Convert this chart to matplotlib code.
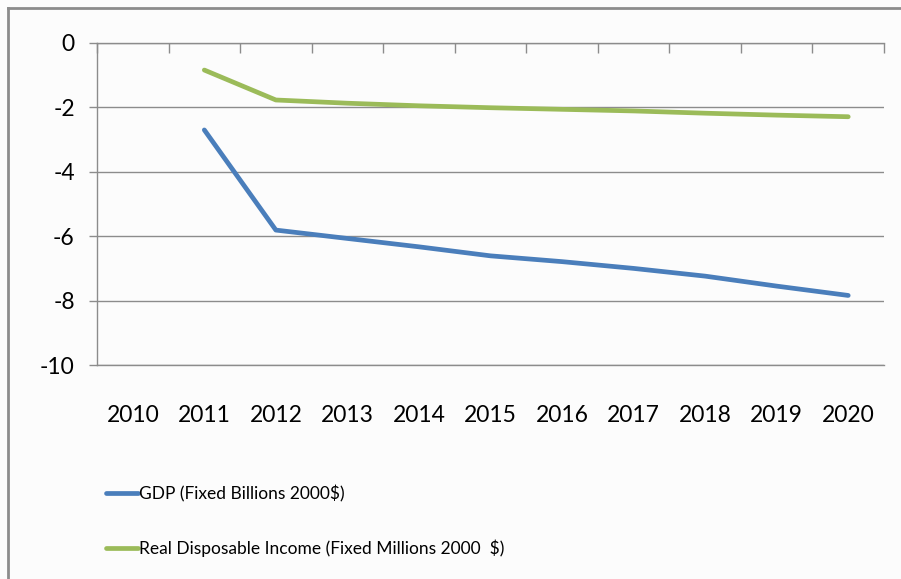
import matplotlib.pyplot as plt
from matplotlib.lines import Line2D
import numpy as np

years = ['2010', '2011', '2012', '2013', '2014', '2015', '2016', '2017', '2018', '2019', '2020']
gdp = [np.nan, -2.70, -5.81, -6.07, -6.33, -6.61, -6.79, -7.00, -7.24, -7.55, -7.84]
income = [np.nan, -0.84, -1.77, -1.87, -1.95, -2.01, -2.06, -2.11, -2.18, -2.24, -2.29]
labels = ['GDP (Fixed Billions 2000$)', 'Real Disposable Income (Fixed Millions 2000  $)']

plt.rcParams['font.family'] = ['Lato', 'DejaVu Sans']

fig = plt.figure(figsize=(9.01, 5.79), dpi=100)
fig.patch.set_facecolor('#fcfcfc')

# outer chart border (left and top visible)
fig.add_artist(Line2D([8/901, 8/901], [0, 1 - 8/579], transform=fig.transFigure, color='#8c8c8c', lw=2))
fig.add_artist(Line2D([8/901, 1], [1 - 8/579, 1 - 8/579], transform=fig.transFigure, color='#8c8c8c', lw=2))

ax = fig.add_axes([97/901, 1 - 365/579, (884 - 97)/901, (365 - 43)/579])
ax.set_facecolor('#fcfcfc')

x = np.arange(len(years))
l1, = ax.plot(x, gdp, color='#4a7ebb', lw=3.4, solid_capstyle='round')
l2, = ax.plot(x, income, color='#9bbb59', lw=3.4, solid_capstyle='round')

ax.set_xlim(-0.5, len(years) - 0.5)
ax.set_ylim(-10, 0)
ax.set_yticks(np.arange(-10, 1, 2))
ax.set_yticklabels([str(v) for v in range(-10, 1, 2)])
ax.yaxis.grid(True, color='#8c8c8c', lw=1)
ax.set_axisbelow(True)

ax.set_xticks(x)
ax.set_xticklabels(years)
ax.set_xticks(np.arange(-0.5, len(years)), minor=True)
ax.tick_params(axis='x', which='major', bottom=False, top=False, labelsize=16.5, pad=25)
ax.tick_params(axis='x', which='minor', bottom=False, top=True, direction='in', length=7, color='#8c8c8c', width=1)
ax.tick_params(axis='y', direction='out', length=6, color='#8c8c8c', width=1, labelsize=16.5, pad=10)

ax.spines['right'].set_visible(False)
for s in ['left', 'top', 'bottom']:
    ax.spines[s].set_color('#8c8c8c')
    ax.spines[s].set_linewidth(1)

fig.legend([l1, l2], labels, loc='upper left', bbox_to_anchor=(99/901, 1 - 478/579),
           frameon=False, fontsize=12.5, handlelength=1.85, handletextpad=0.05,
           labelspacing=2.15, borderaxespad=0)

fig.savefig('out.png', dpi=100, facecolor=fig.get_facecolor())
